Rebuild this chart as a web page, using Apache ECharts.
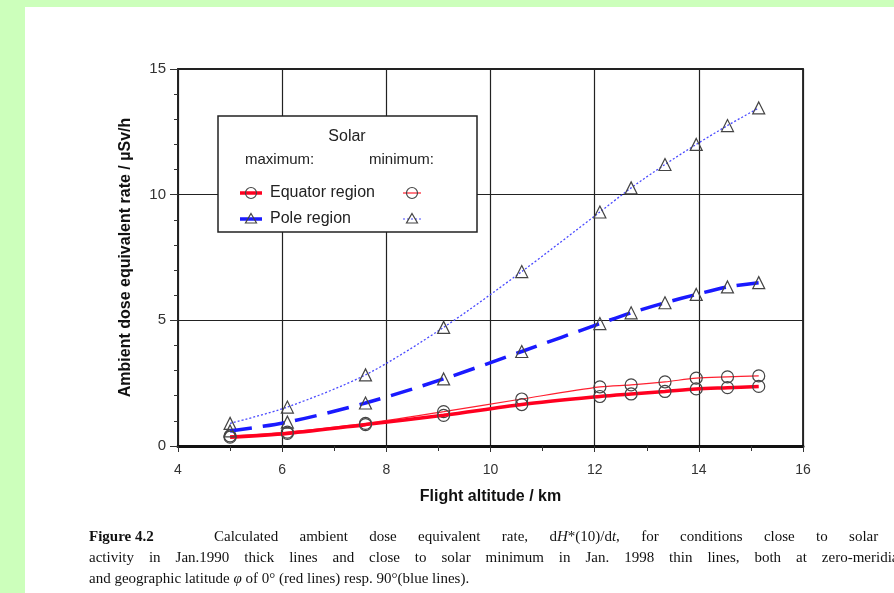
<!DOCTYPE html>
<html>
<head>
<meta charset="utf-8">
<script src="https://cdn.jsdelivr.net/npm/echarts@6/dist/echarts.min.js"></script>
<style>
  html, body { margin: 0; padding: 0; overflow: hidden; width: 894px; height: 593px; }
  #chart { width: 894px; height: 593px; }
  .cap { position: absolute; left: 89px; white-space: nowrap; font: 15px 'Liberation Serif', 'Times New Roman', serif; color: #111; line-height: 20px; }
</style>
</head>
<body>
<div id="chart"></div>
<div class="cap" style="top:526px"><b>Figure 4.2</b><span style="position:absolute;left:125px;word-spacing:17.6px">Calculated ambient dose equivalent rate, d<i>H</i>*(10)/d<i>t</i>, for conditions close to solar maximum</span></div>
<div class="cap" style="top:547px;word-spacing:11.2px">activity in Jan.1990 thick lines and close to solar minimum in Jan. 1998 thin lines, both at zero-meridian</div>
<div class="cap" style="top:568px">and geographic latitude <i>φ</i> of 0° (red lines) resp. 90°(blue lines).</div>
<script>
// flight altitudes (km)
const altitudes = [5.0, 6.1, 7.6, 9.1, 10.6, 12.1, 12.7, 13.35, 13.95, 14.55, 15.15]
// dose rate µSv/h
const equatorMax = [0.35, 0.5, 0.85, 1.22, 1.65, 1.97, 2.07, 2.17, 2.27, 2.32, 2.37]
const equatorMin = [0.4, 0.55, 0.9, 1.37, 1.87, 2.35, 2.43, 2.55, 2.7, 2.75, 2.79]
const poleMax = [0.6, 0.95, 1.71, 2.67, 3.76, 4.87, 5.3, 5.7, 6.03, 6.33, 6.5]
const poleMin = [0.9, 1.55, 2.83, 4.72, 6.94, 9.31, 10.27, 11.2, 12.0, 12.75, 13.45]

const pairs = (ys) => altitudes.map((x, i) => [x, ys[i]])

const chart = echarts.init(document.getElementById('chart'))

const markerStyle = { color: 'rgba(255,255,255,0)', borderColor: '#444', borderWidth: 1.2 }
const font = 'Liberation Sans, Arial, sans-serif'

function series (name, ys, color, width, type, symbol, z) {
  return {
    name: name,
    type: 'line',
    data: pairs(ys),
    smooth: 0.3,
    symbol: symbol,
    symbolSize: 12,
    showAllSymbol: true,
    lineStyle: { color: color, width: width, type: type },
    itemStyle: markerStyle,
    z: z
  }
}

// legend sample symbols (graphic only)
function legendLine (x1, x2, y, color, width, dash) {
  return { type: 'line', z: 60, shape: { x1: x1, y1: y, x2: x2, y2: y }, style: { stroke: color, lineWidth: width, lineDash: dash } }
}
function legendCircle (cx, cy) {
  return { type: 'circle', z: 61, shape: { cx: cx, cy: cy, r: 5.5 }, style: { fill: 'none', stroke: '#444', lineWidth: 1.2 } }
}
function legendTri (cx, cy) {
  return { type: 'polygon', z: 61, shape: { points: [[cx, cy - 5.5], [cx + 5.5, cy + 4], [cx - 5.5, cy + 4]] }, style: { fill: 'none', stroke: '#444', lineWidth: 1.2 } }
}
function legendText (text, x, y, size, align) {
  return { type: 'text', z: 60, style: { text: text, x: x, y: y, align: align || 'left', verticalAlign: 'middle', font: size + 'px ' + font, fill: '#222' } }
}

const option = {
  backgroundColor: '#fff',
  animation: false,
  grid: { left: 178, top: 69, right: 91, bottom: 147, show: true, borderColor: '#222', borderWidth: 1.8 },
  xAxis: {
    type: 'value', min: 4, max: 16, interval: 2,
    name: 'Flight altitude / km', nameLocation: 'middle', nameGap: 43,
    nameTextStyle: { fontFamily: font, fontWeight: 'bold', fontSize: 16, color: '#111' },
    axisLine: { lineStyle: { color: '#111', width: 3 } },
    axisTick: { inside: false, length: 6, lineStyle: { color: '#333' } },
    minorTick: { show: true, splitNumber: 2, length: 5, lineStyle: { color: '#333' } },
    axisLabel: { fontFamily: font, fontSize: 14, color: '#333', margin: 17 },
    splitLine: { show: true, lineStyle: { color: '#222', width: 1.2 } }
  },
  yAxis: {
    type: 'value', min: 0, max: 15, interval: 5,
    name: 'Ambient dose equivalent rate / µSv/h', nameLocation: 'middle', nameGap: 44, nameRotate: 90,
    nameTextStyle: { fontFamily: font, fontWeight: 'bold', fontSize: 16, color: '#111' },
    axisLine: { show: true, lineStyle: { color: '#222', width: 1.5 } },
    axisTick: { inside: false, length: 8, lineStyle: { color: '#333' } },
    minorTick: { show: true, splitNumber: 5, length: 4, lineStyle: { color: '#333' } },
    axisLabel: { fontFamily: font, fontSize: 15, color: '#333', margin: 12 },
    splitLine: { show: true, lineStyle: { color: '#222', width: 1.2 } }
  },
  series: [
    series('Pole min', poleMin, '#4a4aff', 1.3, [2, 2], 'triangle', 2),
    series('Equator min', equatorMin, '#ff2030', 1.2, 'solid', 'circle', 2),
    series('Equator max', equatorMax, '#ff0020', 3.5, 'solid', 'circle', 3),
    series('Pole max', poleMax, '#1a1aff', 3.5, [22, 11], 'triangle', 3)
  ],
  graphic: [
    // green page frame
    { type: 'rect', z: 60, shape: { x: 0, y: 0, width: 894, height: 7 }, style: { fill: '#ccffbb' } },
    { type: 'rect', z: 60, shape: { x: 0, y: 0, width: 25, height: 593 }, style: { fill: '#ccffbb' } },
    // legend box
    { type: 'rect', z: 59, shape: { x: 218, y: 116, width: 259, height: 116 }, style: { fill: '#fff', stroke: '#222', lineWidth: 1.5 } },
    legendText('Solar', 347, 137, 16, 'center'),
    legendText('maximum:', 245, 160, 15),
    legendText('minimum:', 369, 160, 15),
    legendLine(240, 262, 193, '#ff0020', 3.5),
    legendCircle(251, 193),
    legendText('Equator region', 270, 193, 16),
    legendLine(403, 421, 193, '#ff2030', 1.2),
    legendCircle(412, 193),
    legendLine(240, 262, 219, '#1a1aff', 3.5),
    legendTri(251, 219),
    legendText('Pole region', 270, 219, 16),
    legendLine(403, 421, 219, '#4a4aff', 1.2, [2, 2]),
    legendTri(412, 219)
  ]
}

chart.setOption(option)
</script>
</body>
</html>
